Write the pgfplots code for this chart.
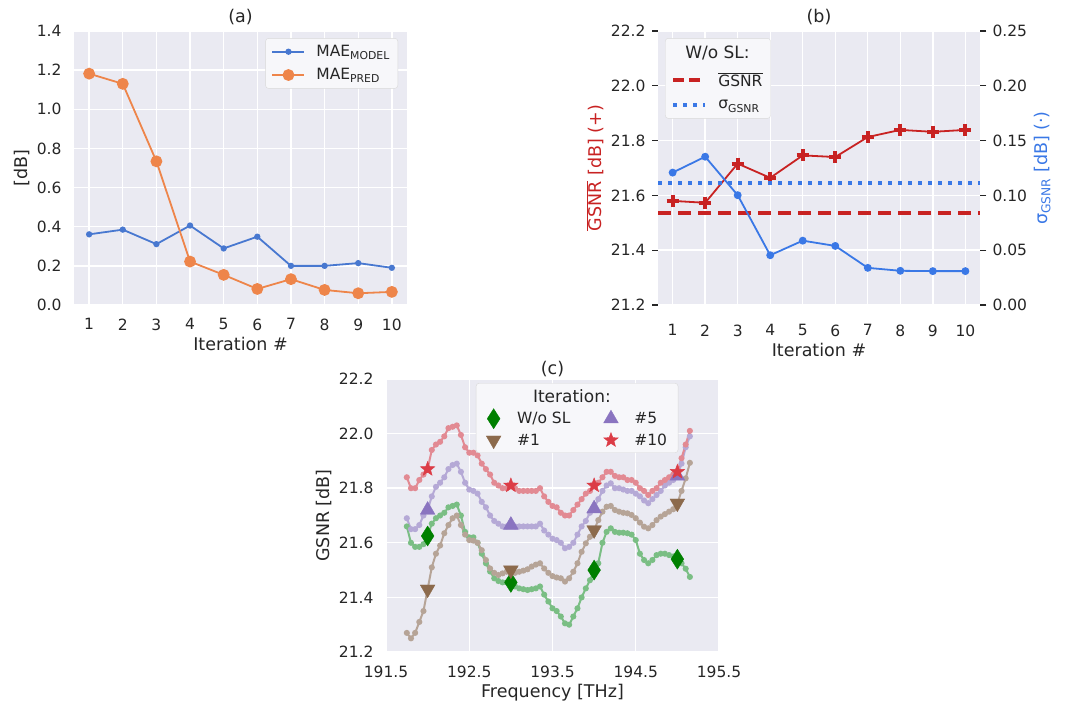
\documentclass[border=0pt]{standalone}
\usepackage{pgfplots}
\pgfplotsset{compat=1.18}
\usepackage{pgfplotstable}
\usepackage{fontspec}
\setmainfont{DejaVu Sans}
\definecolor{sbbg}{HTML}{EAEAF2}
\definecolor{txt}{HTML}{262626}
\definecolor{ablue}{HTML}{4878D0}
\definecolor{aorange}{HTML}{EE854A}
\definecolor{bred}{HTML}{C82222}
\definecolor{bblue}{HTML}{3A78E6}
\definecolor{cgreen}{HTML}{1E9A2A}
\definecolor{cgreenm}{HTML}{008000}
\definecolor{cbrown}{HTML}{8C6A4C}
\definecolor{cpurple}{HTML}{8A74C0}
\definecolor{cred}{HTML}{DC3C46}

\pgfdeclareplotmark{fstar}{%
  \pgfpathmoveto{\pgfpointpolar{90}{\pgfplotmarksize}}%
  \pgfpathlineto{\pgfpointpolar{126}{0.42\pgfplotmarksize}}%
  \pgfpathlineto{\pgfpointpolar{162}{\pgfplotmarksize}}%
  \pgfpathlineto{\pgfpointpolar{198}{0.42\pgfplotmarksize}}%
  \pgfpathlineto{\pgfpointpolar{234}{\pgfplotmarksize}}%
  \pgfpathlineto{\pgfpointpolar{270}{0.42\pgfplotmarksize}}%
  \pgfpathlineto{\pgfpointpolar{306}{\pgfplotmarksize}}%
  \pgfpathlineto{\pgfpointpolar{342}{0.42\pgfplotmarksize}}%
  \pgfpathlineto{\pgfpointpolar{18}{\pgfplotmarksize}}%
  \pgfpathlineto{\pgfpointpolar{54}{0.42\pgfplotmarksize}}%
  \pgfpathclose\pgfusepathqfillstroke}

\pgfplotstableread{
f       g0      g1      g5      g10
191.75  21.66   21.27   21.69   21.84
191.80  21.60   21.25   21.65   21.80
191.85  21.585  21.27   21.65   21.80
191.90  21.585  21.31   21.665  21.83
191.95  21.595  21.35   21.70   21.85
192.00  21.625  21.43   21.72   21.87
192.05  21.67   21.51   21.77   21.94
192.10  21.69   21.56   21.805  21.96
192.15  21.70   21.59   21.82   21.97
192.20  21.71   21.635  21.84   21.99
192.25  21.73   21.665  21.87   22.02
192.30  21.735  21.69   21.885  22.025
192.35  21.74   21.70   21.89   22.03
192.40  21.70   21.665  21.86   21.995
192.45  21.64   21.63   21.82   21.95
192.50  21.62   21.61   21.795  21.93
192.55  21.62   21.608  21.79   21.93
192.60  21.60   21.60   21.78   21.92
192.65  21.56   21.573  21.75   21.89
192.70  21.525  21.537  21.73   21.87
192.75  21.495  21.506  21.70   21.85
192.80  21.47   21.49   21.68   21.82
192.85  21.46   21.482  21.67   21.81
192.90  21.455  21.488  21.66   21.80
192.95  21.455  21.494  21.66   21.80
193.00  21.455  21.50   21.665  21.81
193.05  21.44   21.49   21.66   21.80
193.10  21.433  21.494  21.66   21.79
193.15  21.43   21.498  21.66   21.79
193.20  21.427  21.503  21.66   21.79
193.25  21.43   21.513  21.66   21.79
193.30  21.433  21.52   21.66   21.79
193.35  21.44   21.525  21.67   21.80
193.40  21.41   21.506  21.645  21.77
193.45  21.385  21.49   21.63   21.75
193.50  21.36   21.478  21.615  21.735
193.55  21.35   21.473  21.61   21.73
193.60  21.33   21.47   21.60   21.71
193.65  21.305  21.458  21.58   21.70
193.70  21.30   21.47   21.585  21.70
193.75  21.33   21.494  21.60   21.72
193.80  21.36   21.525  21.63   21.74
193.85  21.40   21.567  21.66   21.76
193.90  21.433  21.598  21.68   21.78
193.95  21.463  21.622  21.71   21.79
194.00  21.50   21.647  21.725  21.81
194.05  21.525  21.683  21.76   21.82
194.10  21.60   21.714  21.79   21.84
194.15  21.64   21.732  21.81   21.86
194.20  21.653  21.735  21.818  21.86
194.25  21.64   21.72   21.80   21.845
194.30  21.637  21.714  21.80   21.84
194.35  21.637  21.71   21.795  21.84
194.40  21.635  21.708  21.79   21.83
194.45  21.63   21.702  21.79   21.83
194.50  21.61   21.69   21.78   21.82
194.55  21.56   21.674  21.77   21.80
194.60  21.537  21.659  21.755  21.79
194.65  21.525  21.653  21.745  21.775
194.70  21.537  21.665  21.76   21.79
194.75  21.555  21.683  21.775  21.80
194.80  21.56   21.696  21.79   21.82
194.85  21.56   21.705  21.81   21.83
194.90  21.555  21.714  21.82   21.84
194.95  21.55   21.723  21.83   21.85
195.00  21.54   21.745  21.845  21.86
195.05  21.525  21.79   21.89   21.91
195.10  21.505  21.836  21.95   21.96
195.15  21.475  21.893  21.99   22.01
}\tabc

\pgfplotstableread{
f       g0      g1      g5      g10
192.0   21.625  21.43   21.72   21.87
193.0   21.455  21.50   21.665  21.81
194.0   21.50   21.647  21.725  21.81
195.0   21.54   21.745  21.845  21.86
}\tabcm

\pgfplotsset{
  sbfont/.style={
    scale only axis,
    tick label style={font=\fontsize{15.5}{18}\selectfont, text=txt},
    label style={font=\fontsize{17.5}{20}\selectfont, text=txt},
    title style={font=\fontsize{17.5}{20}\selectfont, text=txt, yshift=-3pt},
    /pgf/number format/assume math mode=true,
    legend style={font=\fontsize{15.5}{18}\selectfont, text=txt, fill=sbbg!40!white, draw=black!15,
      rounded corners=3pt, inner xsep=6pt, inner ysep=5pt, row sep=6.5pt,
      /tikz/every odd column/.append style={column sep=9pt}},
    legend cell align=left,
  },
  sb/.style={
    sbfont,
    axis background/.style={fill=sbbg},
    axis line style={draw=none},
    grid=major,
    major grid style={white, line width=1.4pt},
    tick style={draw=none},
    xticklabel style={yshift=-10pt},
    yticklabel style={xshift=-9pt},
  },
  linelegend/.style={legend image code/.code={\draw[mark repeat=2,mark phase=2] plot coordinates {(0pt,0pt) (16pt,0pt) (32pt,0pt)};}},
}

\begin{document}
\begin{tikzpicture}

% ---------------- (a)
\begin{axis}[sb, at={(74pt,404pt)}, anchor=south west, width=333pt, height=274pt,
  xmin=0.55, xmax=10.45, ymin=0, ymax=1.4,
  xtick={1,2,3,4,5,6,7,8,9,10},
  ytick={0,0.2,0.4,0.6,0.8,1.0,1.2,1.4},
  yticklabel style={/pgf/number format/.cd, fixed, fixed zerofill, precision=1},
  xlabel={Iteration \#}, ylabel={[dB]}, title={(a)},
  linelegend,
  legend style={at={(0.973,0.974)}, anchor=north east}]
\addplot[color=ablue, line width=1.8pt, mark=*, mark size=2.2pt] coordinates {
(1,0.361) (2,0.385) (3,0.311) (4,0.406) (5,0.289) (6,0.349) (7,0.200) (8,0.200) (9,0.214) (10,0.190)};
\addlegendentry{MAE\textsubscript{MODEL}}
\addplot[color=aorange, line width=1.8pt, mark=*, mark size=5pt] coordinates {
(1,1.182) (2,1.130) (3,0.734) (4,0.222) (5,0.154) (6,0.082) (7,0.132) (8,0.077) (9,0.060) (10,0.067)};
\addlegendentry{MAE\textsubscript{PRED}}
\end{axis}

% ---------------- (b) left
\begin{axis}[sb, at={(658pt,404pt)}, anchor=south west, width=322pt, height=274pt,
  xmin=0.55, xmax=10.45, ymin=21.2, ymax=22.2,
  xtick={1,2,3,4,5,6,7,8,9,10},
  ytick={21.2,21.4,21.6,21.8,22.0,22.2},
  ytick style={draw=txt, line width=1.1pt},
  tick align=outside, major tick length=6pt,
  yticklabel style={xshift=6pt, /pgf/number format/.cd, fixed, fixed zerofill, precision=1},
  xlabel={Iteration \#}, title={(b)},
  ylabel={\color{bred}$\overline{\mbox{GSNR}}$ [dB] (+)}]
\addplot[bred, line width=4pt, dash pattern=on 13pt off 7pt] coordinates {(0.55,21.537) (10.45,21.537)};
\addplot[bred, line width=1.8pt, mark=+, mark size=6pt, mark options={line width=4pt, solid}] coordinates {
(1,21.580) (2,21.573) (3,21.716) (4,21.664) (5,21.746) (6,21.740) (7,21.813) (8,21.839) (9,21.832) (10,21.839)};
\end{axis}

% ---------------- (b) right
\begin{axis}[sbfont, at={(658pt,404pt)}, anchor=south west, width=322pt, height=274pt,
  xmin=0.55, xmax=10.45, ymin=0, ymax=0.25,
  axis x line=none, axis y line*=right,
  axis line style={draw=none},
  ytick={0,0.05,0.10,0.15,0.20,0.25},
  ytick style={draw=txt, line width=1.1pt},
  tick align=outside, major tick length=6pt,
  yticklabel style={xshift=3pt, /pgf/number format/.cd, fixed, fixed zerofill, precision=2},
  ylabel={\color{bblue}σ\textsubscript{GSNR} [dB] (·)},
  linelegend,
  legend style={at={(0.022,0.974)}, anchor=north west, row sep=8.5pt, inner ysep=6pt}]
\addlegendimage{empty legend}
\addlegendentry{\hspace*{-33pt}\fontsize{17}{19}\selectfont W/o SL:}
\addlegendimage{bred, line width=4pt, dash pattern=on 11pt off 5pt}
\addlegendentry{$\overline{\mbox{GSNR}}$}
\addplot[bblue, line width=4pt, dash pattern=on 4pt off 6pt] coordinates {(0.55,0.1117) (10.45,0.1117)};
\addlegendentry{σ\textsubscript{GSNR}}
\addplot[bblue, line width=1.8pt, mark=*, mark size=3pt, forget plot] coordinates {
(1,0.1208) (2,0.1353) (3,0.1002) (4,0.0454) (5,0.0587) (6,0.0539) (7,0.0339) (8,0.0312) (9,0.0309) (10,0.0309)};
\end{axis}

% ---------------- (c)
\begin{axis}[sb, at={(386pt,57pt)}, anchor=south west, width=333pt, height=273pt,
  xmin=191.5, xmax=195.5, ymin=21.2, ymax=22.2,
  xtick={191.5,192.5,193.5,194.5,195.5},
  ytick={21.2,21.4,21.6,21.8,22.0,22.2},
  xticklabel style={/pgf/number format/.cd, fixed, fixed zerofill, precision=1, 1000 sep={}},
  yticklabel style={/pgf/number format/.cd, fixed, fixed zerofill, precision=1},
  title style={yshift=-4pt},
  xlabel={Frequency [THz]}, ylabel={GSNR [dB]}, title={(c)},
  legend columns=2,
  legend style={at={(0.27,0.985)}, anchor=north west, inner xsep=9pt, inner ysep=4pt, row sep=3pt,
    /tikz/every odd column/.append style={column sep=14pt},
    /tikz/every even column/.append style={column sep=30pt}}]
\addplot[cgreen!55!sbbg, line width=2pt, mark=*, mark size=2pt, forget plot] table[x=f, y=g0] {\tabc};
\addplot[cbrown!55!sbbg, line width=2pt, mark=*, mark size=2pt, forget plot] table[x=f, y=g1] {\tabc};
\addplot[cpurple!55!sbbg, line width=2pt, mark=*, mark size=2pt, forget plot] table[x=f, y=g5] {\tabc};
\addplot[cred!55!sbbg, line width=2pt, mark=*, mark size=2pt, forget plot] table[x=f, y=g10] {\tabc};
\addlegendimage{empty legend}
\addlegendentry{\makebox[0pt][l]{\hspace*{16pt}\fontsize{17}{19}\selectfont Iteration:}}
\addlegendimage{empty legend}
\addlegendentry{}
\addplot[only marks, mark=diamond*, mark size=10pt, mark options={sharp corners, xscale=0.85, fill=cgreenm, draw=cgreenm}] table[x=f, y=g0] {\tabcm};
\addlegendentry{W/o SL}
\addplot[only marks, mark=triangle*, mark size=8.5pt, mark options={sharp corners, fill=cpurple, draw=cpurple}] table[x=f, y=g5] {\tabcm};
\addlegendentry{\#5}
\addplot[only marks, mark=triangle*, mark size=8.5pt, mark options={sharp corners, rotate=180, fill=cbrown, draw=cbrown}] table[x=f, y=g1] {\tabcm};
\addlegendentry{\#1}
\addplot[only marks, mark=fstar, mark size=7.5pt, mark options={sharp corners, fill=cred, draw=cred, line width=0.5pt}] table[x=f, y=g10] {\tabcm};
\addlegendentry{\#10}
\end{axis}

\path[use as bounding box] (0pt,0pt) rectangle (1067pt,709pt);
\end{tikzpicture}
\end{document}
